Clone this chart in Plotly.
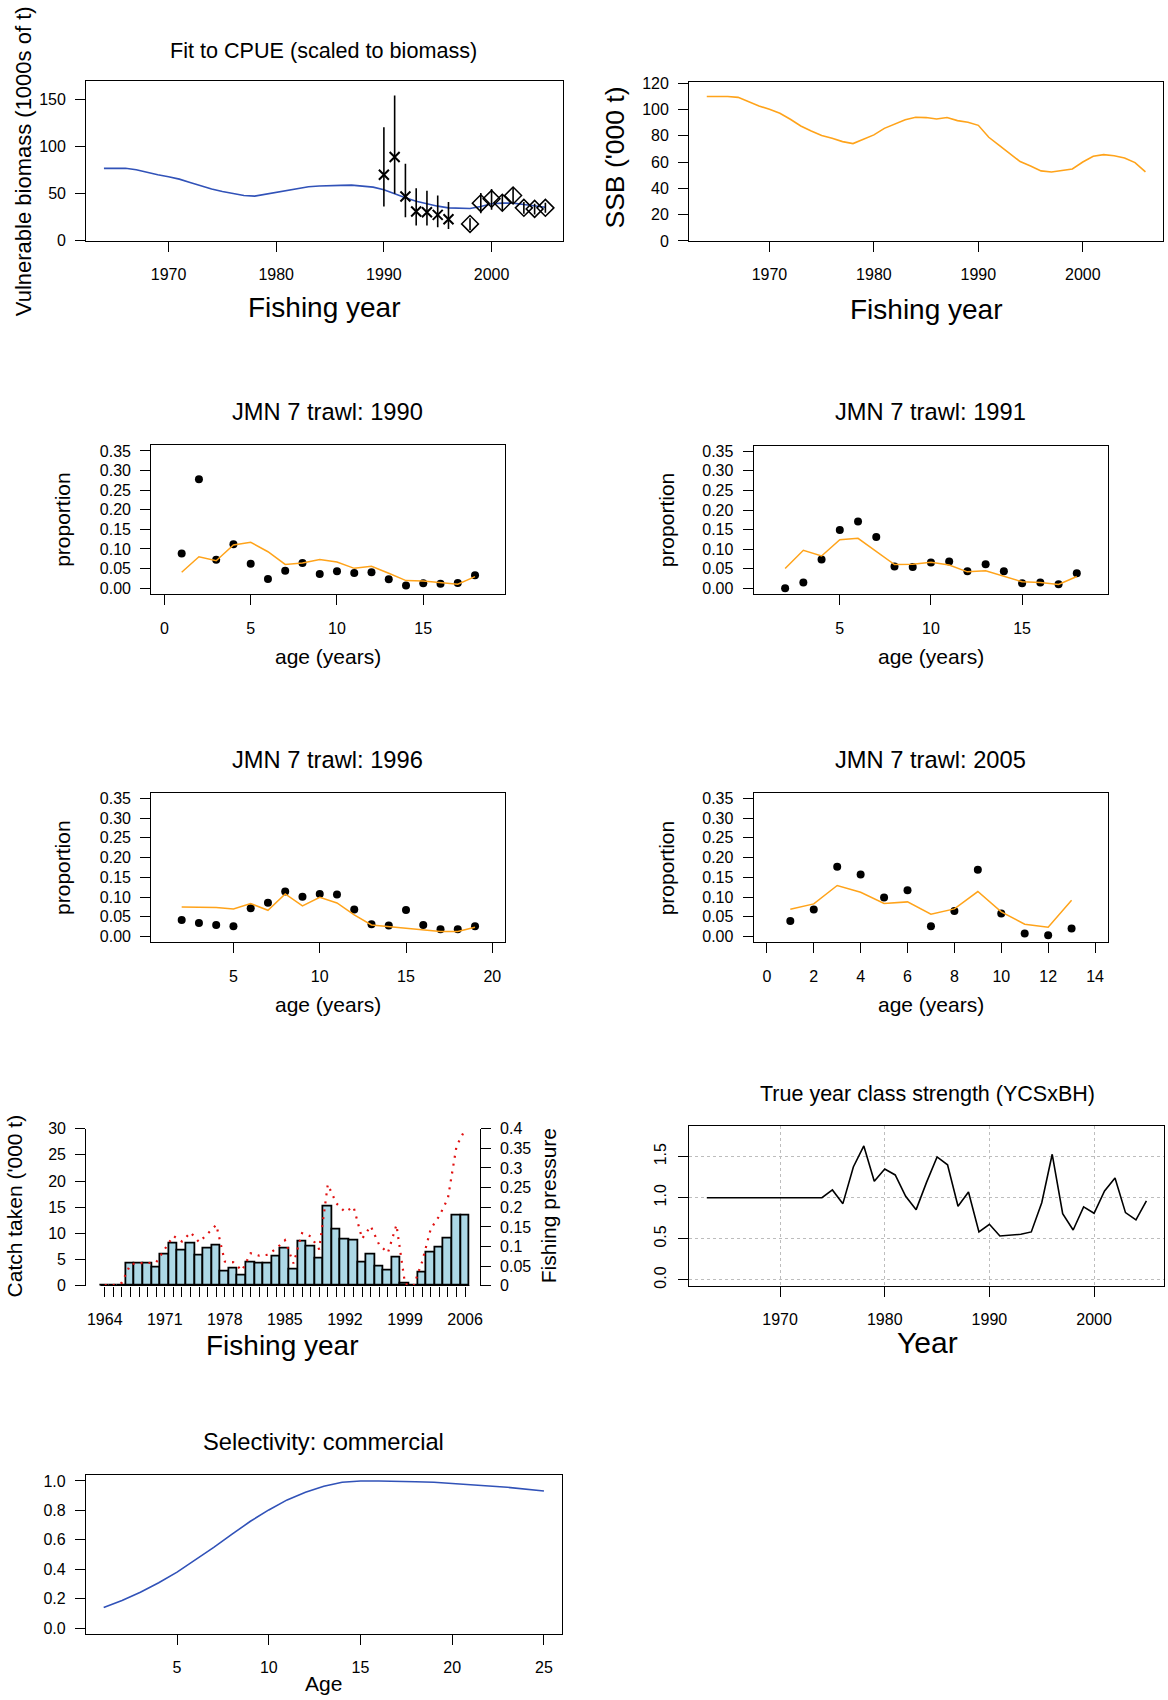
import plotly.graph_objects as go

# ---------------- data ----------------
vb_years = list(range(1964, 2006))
vb_values = [77, 77, 77, 75.5, 72.7, 70.2, 68, 65.5, 62, 58.4, 54.9, 52.4, 50.2, 48.1,
             47.4, 49.5, 51.7, 53.8, 55.6, 57.4, 58.1, 58.1, 58.8, 59.1, 58.1, 57, 54.2,
             49.5, 45.6, 42, 39.2, 36.7, 34.9, 34.2, 34.2, 36.3, 39.2, 39.9, 39.9, 38.5,
             37, 35.6]

cpue1_years = [1990, 1991, 1992, 1993, 1994, 1995, 1996]
cpue1_obs = [70.2, 89, 47, 31, 30.3, 27.4, 22.8]
cpue1_low = [36.3, 49.9, 24.9, 16, 16, 14.2, 12.5]
cpue1_upp = [120.8, 154.6, 81.9, 55.9, 53.1, 48.1, 41]

cpue2_years = [1998, 1999, 2000, 2001, 2002, 2003, 2004, 2005]
cpue2_obs = [17.8, 39.9, 44.5, 40.3, 48.1, 34.9, 33.8, 34.9]
cpue2_low = [11.4, 29.2, 32.8, 31.7, 39.2, 28.5, 27.8, 29.6]
cpue2_upp = [23.9, 50.6, 54.9, 48.8, 57, 41, 39.2, 40.3]

ssb_years = list(range(1964, 2007))
ssb_values = [110, 110, 110, 109.3, 105.8, 102.7, 100.2, 97.2, 92.6, 87.5,
              83.7, 80.2, 78.1, 75.6, 74.1, 77.4, 80.7, 85.7, 89, 92.3,
              94.1, 93.9, 92.8, 93.9, 91.6, 90.3, 88, 78.9, 72.8, 66.5,
              60.4, 57.1, 53.3, 52.5, 53.5, 54.8, 60.1, 64.4, 65.7, 64.9,
              63.2, 59.6, 52.5]

age_1990 = list(range(1, 19))
obs_1990 = [0.0886, 0.278, 0.0725, 0.112, 0.0624, 0.0236, 0.0447, 0.0641, 0.0363,
            0.043, 0.0388, 0.0405, 0.0228, 0.0067, 0.0127, 0.011, 0.0135, 0.0329]
fit_1990 = [0.0405, 0.080, 0.070, 0.110, 0.117, 0.093, 0.0607, 0.064, 0.073,
            0.0666, 0.0506, 0.0557, 0.038, 0.0194, 0.0186, 0.0143, 0.0101, 0.0295]

age_1991 = list(range(2, 19))
obs_1991 = [0.0008, 0.0153, 0.0737, 0.149, 0.171, 0.131, 0.056, 0.055, 0.066,
            0.0686, 0.044, 0.0619, 0.044, 0.0136, 0.0153, 0.011, 0.039]
fit_1991 = [0.0508, 0.0975, 0.083, 0.1246, 0.128, 0.094, 0.061, 0.0619, 0.067,
            0.060, 0.0424, 0.045, 0.0305, 0.017, 0.0153, 0.0102, 0.0305]

age_1996 = list(range(2, 20))
obs_1996 = [0.0422, 0.0346, 0.0295, 0.0261, 0.0717, 0.086, 0.1139, 0.101, 0.108,
            0.1063, 0.0683, 0.0312, 0.0278, 0.0675, 0.0295, 0.0186, 0.0186, 0.0261]
fit_1996 = [0.075, 0.0742, 0.0734, 0.070, 0.0835, 0.0666, 0.108, 0.0776, 0.0995,
            0.0852, 0.0548, 0.0295, 0.0253, 0.0228, 0.0177, 0.0127, 0.0127, 0.0236]

age_2005 = list(range(1, 14))
obs_2005 = [0.0397, 0.0685, 0.1767, 0.157, 0.099, 0.1175, 0.0262, 0.065, 0.169,
            0.0583, 0.0076, 0.0034, 0.0203]
fit_2005 = [0.0693, 0.0828, 0.1293, 0.1124, 0.0837, 0.0879, 0.0566, 0.0702, 0.1141,
            0.0626, 0.0313, 0.0237, 0.0921]

catch_years = list(range(1964, 2007))
catch_values = [0, 0, 0, 4.2, 4.2, 4.2, 3.57, 5.9, 8.14, 6.68, 8.14, 5.85, 7.06, 7.76,
                2.8, 3.24, 1.91, 4.45, 4.26, 4.32, 5.53, 7.06, 3.18, 8.4, 7.5, 5.22,
                15.2, 10.7, 8.78, 8.65, 4.45, 6.04, 3.69, 2.92, 5.47, 0.4, 0, 2.48,
                6.3, 7.38, 9.04, 13.48, 13.48]
fishing_pressure = [0.002, 0.002, 0.008, 0.055, 0.058, 0.058, 0.060, 0.092, 0.127, 0.113,
                    0.136, 0.111, 0.134, 0.155, 0.062, 0.060, 0.039, 0.083, 0.077, 0.079,
                    0.095, 0.116, 0.057, 0.134, 0.126, 0.093, 0.258, 0.210, 0.188, 0.201,
                    0.120, 0.152, 0.104, 0.084, 0.155, 0.005, 0.000, 0.062, 0.145, 0.178,
                    0.223, 0.355, 0.398]
catch_label_years = [1964, 1971, 1978, 1985, 1992, 1999, 2006]
fp_ticks = [0, 0.05, 0.1, 0.15, 0.2, 0.25, 0.3, 0.35, 0.4]
fp_ticklabels = ["0", "0.05", "0.1", "0.15", "0.2", "0.25", "0.3", "0.35", "0.4"]

ycs_years = list(range(1963, 2006))
ycs_values = [1.0, 1.0, 1.0, 1.0, 1.0, 1.0, 1.0, 1.0, 1.0, 1.0, 1.0, 1.0,
              1.095, 0.928, 1.374, 1.63, 1.20, 1.35, 1.277, 1.018, 0.855, 1.19,
              1.496, 1.40, 0.896, 1.07, 0.584, 0.677, 0.535, 0.543, 0.555, 0.584,
              0.94, 1.528, 0.807, 0.608, 0.888, 0.811, 1.082, 1.24, 0.819, 0.73, 0.961]

sel_ages = list(range(1, 26))
sel_values = [0.140, 0.188, 0.244, 0.308, 0.380, 0.462, 0.548, 0.638, 0.726, 0.803,
              0.871, 0.923, 0.964, 0.991, 1.0, 1.0, 1.0, 0.995, 0.991, 0.984,
              0.975, 0.966, 0.957, 0.946, 0.932]

prop_ticks = [0, 0.05, 0.1, 0.15, 0.2, 0.25, 0.3, 0.35]
prop_ticklabels = ["0.00", "0.05", "0.10", "0.15", "0.20", "0.25", "0.30", "0.35"]

# ---------------- layout helpers ----------------
W, H = 1168, 1700
FONT = "Liberation Sans, Arial, Helvetica, sans-serif"
BLUE = "#3152B8"
ORANGE = "#FFA31A"

# the page is photographed with an 8px band above/below the figure and squeezed
# vertically; positions below are page pixels, mapped back to figure pixels here
V_OFF, V_SCALE = 7.93, 0.99068


def fy(y):
    return (y - V_OFF) / V_SCALE


def dx(l, r):
    return [l / W, r / W]


def dy(t, b):
    return [1 - fy(b) / H, 1 - fy(t) / H]


def axis(domain, rng, anchor, tickvals, ticktext=None, standoff=6, box=True, **kw):
    d = dict(domain=domain, range=rng, anchor=anchor, tickmode="array", tickvals=tickvals,
             showline=True, mirror=box, linecolor="black", linewidth=1.3,
             ticks="outside", ticklen=10, tickwidth=1.3, tickcolor="black",
             showgrid=False, zeroline=False, ticklabelstandoff=standoff,
             tickfont=dict(family=FONT, size=16, color="black"))
    if ticktext is not None:
        d["ticktext"] = ticktext
    d.update(kw)
    return d


annotations = []


def text(s, x, y, size, angle=0):
    annotations.append(dict(text=s, x=x / W, y=1 - fy(y) / H, xref="paper", yref="paper",
                            xanchor="center", yanchor="middle", showarrow=False,
                            textangle=angle, font=dict(family=FONT, size=size, color="black")))


fig = go.Figure()

# ---------------- Panel 1: CPUE fit ----------------
fig.add_trace(go.Scatter(x=vb_years, y=vb_values, mode="lines",
                         line=dict(color=BLUE, width=1.6), xaxis="x", yaxis="y"))
fig.add_trace(go.Scatter(
    x=cpue1_years, y=cpue1_obs, mode="markers",
    marker=dict(symbol="x-thin-open", size=10, color="black", line=dict(color="black", width=2)),
    error_y=dict(type="data", symmetric=False,
                 array=[u - o for u, o in zip(cpue1_upp, cpue1_obs)],
                 arrayminus=[o - l for o, l in zip(cpue1_obs, cpue1_low)],
                 width=0, thickness=1.6, color="black"),
    xaxis="x", yaxis="y"))
fig.add_trace(go.Scatter(
    x=cpue2_years, y=cpue2_obs, mode="markers",
    marker=dict(symbol="diamond-open", size=13, color="black", line=dict(color="black", width=1.5)),
    error_y=dict(type="data", symmetric=False,
                 array=[u - o for u, o in zip(cpue2_upp, cpue2_obs)],
                 arrayminus=[o - l for o, l in zip(cpue2_obs, cpue2_low)],
                 width=0, thickness=1.6, color="black"),
    xaxis="x", yaxis="y"))

# ---------------- Panel 2: SSB ----------------
fig.add_trace(go.Scatter(x=ssb_years, y=ssb_values, mode="lines",
                         line=dict(color=ORANGE, width=1.6), xaxis="x2", yaxis="y2"))

# ---------------- Panels 3-6: composition fits ----------------
comp_panels = [
    (age_1990, obs_1990, fit_1990, "3"),
    (age_1991, obs_1991, fit_1991, "4"),
    (age_1996, obs_1996, fit_1996, "5"),
    (age_2005, obs_2005, fit_2005, "6"),
]
for ages, obs, fit, k in comp_panels:
    fig.add_trace(go.Scatter(x=ages, y=obs, mode="markers",
                             marker=dict(color="black", size=8), xaxis="x" + k, yaxis="y" + k))
    fig.add_trace(go.Scatter(x=ages, y=fit, mode="lines",
                             line=dict(color=ORANGE, width=1.5), xaxis="x" + k, yaxis="y" + k))

# ---------------- Panel 7: catch and fishing pressure ----------------
fig.add_trace(go.Bar(x=catch_years, y=catch_values, width=1,
                     marker=dict(color="#ADD8E6", line=dict(color="black", width=1.8)),
                     xaxis="x7", yaxis="y7"))
fig.add_trace(go.Scatter(x=catch_years, y=fishing_pressure, mode="lines",
                         line=dict(color="#E01010", width=2.2, dash="2px,6px"),
                         cliponaxis=False, xaxis="x7", yaxis="y8"))

# ---------------- Panel 8: YCS ----------------
fig.add_trace(go.Scatter(x=ycs_years, y=ycs_values, mode="lines",
                         line=dict(color="black", width=1.6), xaxis="x8", yaxis="y9"))

# ---------------- Panel 9: selectivity ----------------
fig.add_trace(go.Scatter(x=sel_ages, y=sel_values, mode="lines",
                         line=dict(color=BLUE, width=1.6), xaxis="x9", yaxis="y10"))

# ---------------- axes ----------------
year_ticks = [1970, 1980, 1990, 2000]
layout_axes = dict(
    xaxis=axis(dx(86.5, 564.5), [1962.36, 2006.64], "y", year_ticks, standoff=9),
    yaxis=axis(dy(81, 240.7), [0, 170], "x", [0, 50, 100, 150]),
    xaxis2=axis(dx(691, 1166), [1962.32, 2007.68], "y2", year_ticks, standoff=9),
    yaxis2=axis(dy(81.7, 241), [0, 121.2], "x2", [0, 20, 40, 60, 80, 100, 120]),
    xaxis3=axis(dx(151.7, 506.7), [-0.76, 19.76], "y3", [0, 5, 10, 15], standoff=10),
    yaxis3=axis(dy(445.7, 594), [-0.014, 0.364], "x3", prop_ticks, prop_ticklabels),
    xaxis4=axis(dx(755.7, 1111), [0.28, 19.72], "y4", [5, 10, 15], standoff=10),
    yaxis4=axis(dy(446, 594.3), [-0.014, 0.364], "x4", prop_ticks, prop_ticklabels),
    xaxis5=axis(dx(151.7, 506.7), [0.24, 20.76], "y5", [5, 10, 15, 20], standoff=10),
    yaxis5=axis(dy(793.3, 942.7), [-0.014, 0.364], "x5", prop_ticks, prop_ticklabels),
    xaxis6=axis(dx(755.7, 1111), [-0.56, 14.56], "y6", [0, 2, 4, 6, 8, 10, 12, 14], standoff=10),
    yaxis6=axis(dy(793.3, 942.7), [-0.014, 0.364], "x6", prop_ticks, prop_ticklabels),
    xaxis7=axis(dx(86.5, 481), [1961.85, 2007.71], "y7", catch_years,
                [str(y) if y in catch_label_years else "" for y in catch_years],
                standoff=9, box=False, showline=False),
    yaxis7=axis(dy(1129.3, 1286.7), [0, 30], "x7", [0, 5, 10, 15, 20, 25, 30], box=False),
    yaxis8=axis(dy(1129.3, 1286.7), [0, 0.4], "x7", fp_ticks, fp_ticklabels, box=False,
                overlaying="y7", side="right"),
    xaxis8=axis(dx(691, 1167), [1961.32, 2006.68], "y9", year_ticks, standoff=9,
                showgrid=True, gridcolor="#BDBDBD", griddash="dot", gridwidth=1.3),
    yaxis9=axis(dy(1126.7, 1286.7), [-0.072, 1.872], "x8", [0, 0.5, 1.0, 1.5],
                ["0.0", "0.5", "1.0", "1.5"], tickangle=-90,
                showgrid=True, gridcolor="#BDBDBD", griddash="dot", gridwidth=1.3),
    xaxis9=axis(dx(86.3, 563), [0.04, 25.96], "y10", [5, 10, 15, 20, 25], standoff=9),
    yaxis10=axis(dy(1476, 1635), [-0.04, 1.04], "x9", [0, 0.2, 0.4, 0.6, 0.8, 1.0],
                 ["0.0", "0.2", "0.4", "0.6", "0.8", "1.0"]),
)

# baseline under the bars (zero-height bars in the original)
shapes = [dict(type="line", xref="x7", yref="y7",
               x0=catch_years[0] - 0.5, x1=catch_years[-1] + 0.5, y0=0, y1=0,
               line=dict(color="black", width=1.8))]

# ---------------- titles ----------------
text("Fit to CPUE (scaled to biomass)", 324.5, 50, 21.6)
text("Vulnerable biomass (1000s of t)", 23.6, 161.7, 22, -90)
text("Fishing year", 325, 308, 28)
text("SSB ('000 t)", 616.6, 157.5, 26.5, -90)
text("Fishing year", 929, 310, 28)

text("JMN 7 trawl: 1990", 328.7, 412.7, 23.7)
text("JMN 7 trawl: 1991", 932.5, 412.7, 23.7)
text("JMN 7 trawl: 1996", 328.7, 760.7, 23.7)
text("JMN 7 trawl: 2005", 933, 760.7, 23.7)
for xx, yy in [(63.3, 520), (668.3, 520), (63.3, 868.3), (668.3, 868.3)]:
    text("proportion", xx, yy, 21, -90)
for xx, yy in [(328.7, 656.7), (933, 656.7), (328.7, 1005), (933, 1005)]:
    text("age (years)", xx, yy, 21)

text("Catch taken ('000 t)", 14.5, 1206.7, 21, -90)
text("Fishing pressure", 550.7, 1206.7, 21, -90)
text("Fishing year", 283.5, 1346.7, 28)

text("True year class strength (YCSxBH)", 929.5, 1095, 21.5)
text("Year", 930, 1343, 30)

text("Selectivity: commercial", 324, 1443.3, 23.7)
text("Age", 324.8, 1685, 21)

fig.update_layout(
    width=W, height=H, autosize=False,
    margin=dict(l=0, r=0, t=0, b=0, pad=0),
    paper_bgcolor="white", plot_bgcolor="white",
    showlegend=False, bargap=0,
    font=dict(family=FONT, color="black"),
    annotations=annotations, shapes=shapes,
    **layout_axes,
)

# remove the default page margin synchronously (right after the plot call)
fig.write_html(
    "out.html", config={"displayModeBar": False},
    post_script="}); document.body.style.margin='0px'; "
                "document.documentElement.style.overflow='hidden'; (function(){",
)
